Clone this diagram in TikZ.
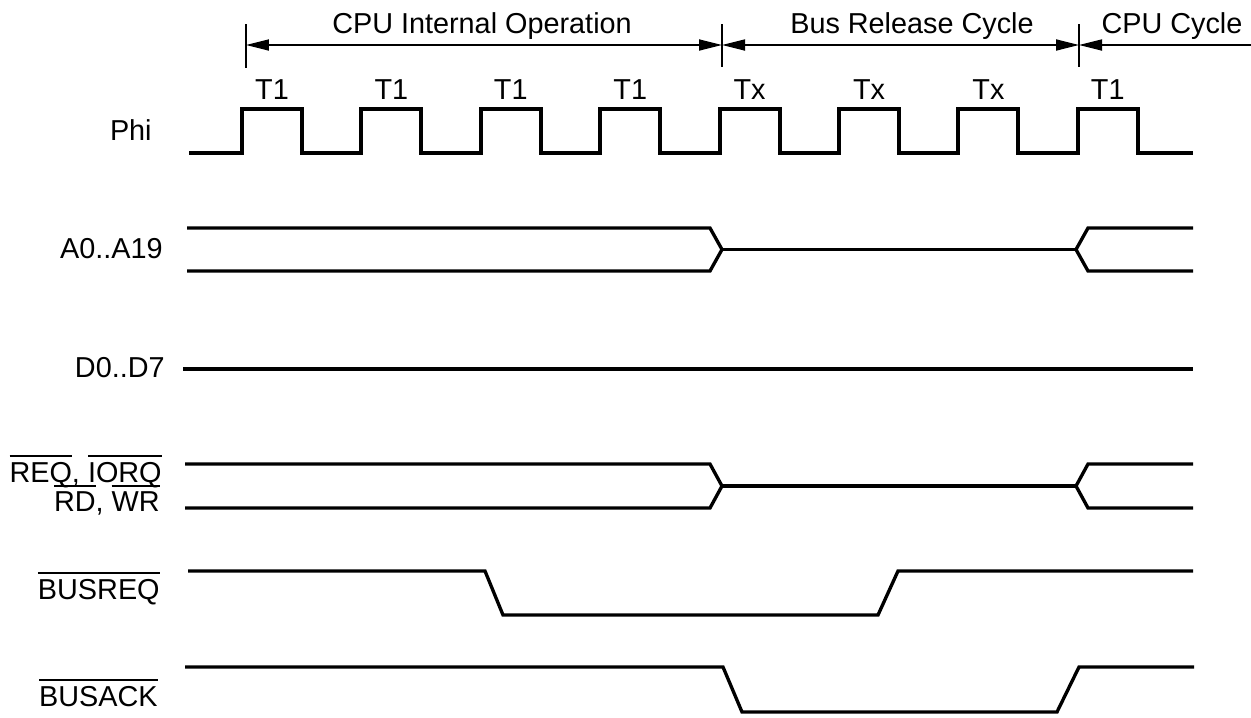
\documentclass[tikz,border=0pt]{standalone}
\usepackage{fontspec}
\setmainfont{Liberation Sans}
\usepackage{tikz}
\usetikzlibrary{arrows.meta,positioning,calc}

\newcommand{\nbar}[1]{\leavevmode\vbox{\hrule height 1.1pt\kern 2.6pt\hbox{#1}}}

\tikzset{
  sig/.style={line width=1.9pt},
  clk/.style={line width=2.2pt},
  dimline/.style={line width=1pt},
  divline/.style={line width=0.8pt},
  lbl/.style={inner sep=0pt,anchor=base east,font=\fontsize{16.4}{19}\selectfont},
  ttl/.style={inner sep=0pt,anchor=base,font=\fontsize{16.4}{19}\selectfont},
}

\begin{document}
\begin{tikzpicture}[line cap=butt,line join=miter,>={Triangle[length=0.46cm,width=0.22cm]},x=0.02cm,y=-0.02cm]
\useasboundingbox (0,0) rectangle (1251,717);
% cycle marks
\coordinate (s0) at (246,45); \coordinate (s1) at (722,45);
\coordinate (s2) at (1079,45); \coordinate (s3) at (1251,45);
\draw[divline] (246,24) -- (246,68);
\draw[divline] (722,24) -- (722,67);
\draw[divline] (1079,24) -- (1079,67);
\draw[dimline,<->] (s0) -- (s1);
\draw[dimline,<->] (s1) -- (s2);
\draw[dimline,<-] (s2) -- (s3);
\node[ttl] (cpuint) at (482,33) {CPU Internal Operation};
\node[ttl] (busrel) at (912,33) {Bus Release Cycle};
\node[ttl] (cpucyc) at (1172,33) {CPU Cycle};
% clock
\draw[clk] (189,153) foreach \r in {242,361.4,480.8,600.2,719.6,839,958.4,1077.8}
      { -- (\r,153) -- (\r,109) -- (\r+60,109) -- (\r+60,153) } -- (1193,153);
\foreach \r/\t [count=\i] in {242/T1,361.4/T1,480.8/T1,600.2/T1,719.6/Tx,839/Tx,958.4/Tx,1077.8/T1}
  \node[ttl] (cyc\i) at (\r+30,99) {\t};
% address bus
\draw[sig] (187,228) -- (710,228) -- (722,249.5) -- (710,271) -- (187,271);
\draw[sig] (722,249.5) -- (1076,249.5);
\draw[sig] (1193,228) -- (1088,228) -- (1076,249.5) -- (1088,271) -- (1193,271);
% data bus
\draw[sig] (183,369) -- (1193,369);
% control lines
\draw[sig] (185,464) -- (710,464) -- (722,486) -- (710,508) -- (185,508);
\draw[sig] (722,486) -- (1076,486);
\draw[sig] (1193,464) -- (1088,464) -- (1076,486) -- (1088,508) -- (1193,508);
% busreq, busack
\draw[sig] (188,571) -- (485,571) -- (503,615) -- (878,615) -- (898,571) -- (1193,571);
\draw[sig] (185,667) -- (723,667) -- (742,712) -- (1057,712) -- (1079,667) -- (1194,667);
\node[lbl] (lphi) at (152,140) {Phi};
\node[lbl] (laddr) at (163,258) {A0..A19};
\node[lbl] (ldata) at (165,377) {D0..D7};
\node[lbl] (lreq) at (162,482) {\nbar{REQ}, \nbar{IORQ}};
\node[lbl] (lrd) at (160,511) {\nbar{RD}, \nbar{WR}};
\node[lbl] (lbreq) at (160,599) {\nbar{BUSREQ}};
\node[lbl] (lback) at (158,706) {\nbar{BUSACK}};
%\draw[step=50,gray,very thin] (0,0) grid (1251,717);
\end{tikzpicture}
\end{document}
